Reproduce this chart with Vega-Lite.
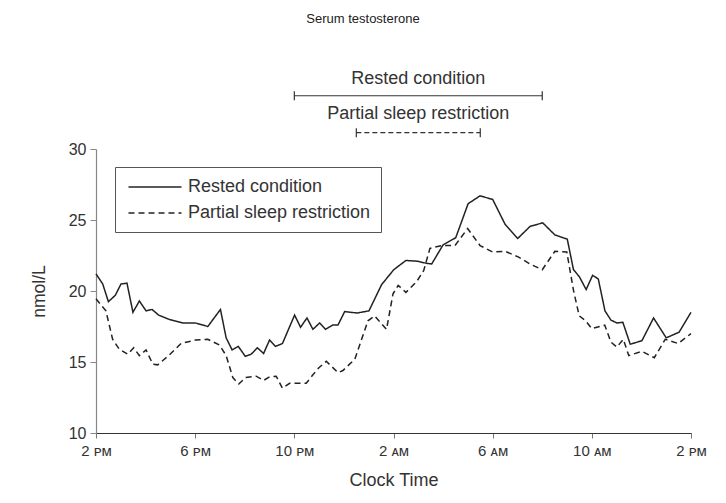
{
  "$schema": "https://vega.github.io/schema/vega-lite/v6.json",
  "width": 595,
  "height": 284,
  "autosize": {"type": "none"},
  "padding": {"left": 96, "top": 149, "right": 35, "bottom": 70},
  "background": "white",
  "config": {
    "view": {"stroke": null},
    "font": "Liberation Sans",
    "axis": {"grid": false, "labelFont": "Liberation Sans", "titleFont": "Liberation Sans", "titleFontWeight": "normal"}
  },
  "datasets": {
    "serum": [
      {"t": 0.00, "v": 21.2, "s": "Rested condition"},
      {"t": 0.27, "v": 20.5, "s": "Rested condition"},
      {"t": 0.50, "v": 19.25, "s": "Rested condition"},
      {"t": 0.78, "v": 19.7, "s": "Rested condition"},
      {"t": 1.01, "v": 20.5, "s": "Rested condition"},
      {"t": 1.25, "v": 20.55, "s": "Rested condition"},
      {"t": 1.49, "v": 18.5, "s": "Rested condition"},
      {"t": 1.75, "v": 19.3, "s": "Rested condition"},
      {"t": 2.02, "v": 18.6, "s": "Rested condition"},
      {"t": 2.26, "v": 18.7, "s": "Rested condition"},
      {"t": 2.53, "v": 18.3, "s": "Rested condition"},
      {"t": 2.95, "v": 18.0, "s": "Rested condition"},
      {"t": 3.50, "v": 17.75, "s": "Rested condition"},
      {"t": 4.01, "v": 17.75, "s": "Rested condition"},
      {"t": 4.51, "v": 17.5, "s": "Rested condition"},
      {"t": 5.02, "v": 18.7, "s": "Rested condition"},
      {"t": 5.25, "v": 16.7, "s": "Rested condition"},
      {"t": 5.49, "v": 15.85, "s": "Rested condition"},
      {"t": 5.74, "v": 16.1, "s": "Rested condition"},
      {"t": 6.02, "v": 15.4, "s": "Rested condition"},
      {"t": 6.26, "v": 15.55, "s": "Rested condition"},
      {"t": 6.51, "v": 16.0, "s": "Rested condition"},
      {"t": 6.76, "v": 15.6, "s": "Rested condition"},
      {"t": 7.00, "v": 16.55, "s": "Rested condition"},
      {"t": 7.24, "v": 16.1, "s": "Rested condition"},
      {"t": 7.52, "v": 16.3, "s": "Rested condition"},
      {"t": 8.01, "v": 18.3, "s": "Rested condition"},
      {"t": 8.25, "v": 17.45, "s": "Rested condition"},
      {"t": 8.51, "v": 18.1, "s": "Rested condition"},
      {"t": 8.75, "v": 17.3, "s": "Rested condition"},
      {"t": 9.02, "v": 17.75, "s": "Rested condition"},
      {"t": 9.26, "v": 17.3, "s": "Rested condition"},
      {"t": 9.54, "v": 17.6, "s": "Rested condition"},
      {"t": 9.76, "v": 17.6, "s": "Rested condition"},
      {"t": 10.03, "v": 18.55, "s": "Rested condition"},
      {"t": 10.53, "v": 18.45, "s": "Rested condition"},
      {"t": 11.01, "v": 18.6, "s": "Rested condition"},
      {"t": 11.52, "v": 20.45, "s": "Rested condition"},
      {"t": 12.01, "v": 21.5, "s": "Rested condition"},
      {"t": 12.50, "v": 22.15, "s": "Rested condition"},
      {"t": 12.95, "v": 22.1, "s": "Rested condition"},
      {"t": 13.33, "v": 21.95, "s": "Rested condition"},
      {"t": 13.54, "v": 21.9, "s": "Rested condition"},
      {"t": 14.00, "v": 23.25, "s": "Rested condition"},
      {"t": 14.51, "v": 23.75, "s": "Rested condition"},
      {"t": 15.01, "v": 26.15, "s": "Rested condition"},
      {"t": 15.49, "v": 26.7, "s": "Rested condition"},
      {"t": 16.00, "v": 26.45, "s": "Rested condition"},
      {"t": 16.50, "v": 24.7, "s": "Rested condition"},
      {"t": 17.01, "v": 23.7, "s": "Rested condition"},
      {"t": 17.51, "v": 24.55, "s": "Rested condition"},
      {"t": 18.02, "v": 24.8, "s": "Rested condition"},
      {"t": 18.51, "v": 23.95, "s": "Rested condition"},
      {"t": 19.01, "v": 23.65, "s": "Rested condition"},
      {"t": 19.26, "v": 21.5, "s": "Rested condition"},
      {"t": 19.50, "v": 21.0, "s": "Rested condition"},
      {"t": 19.77, "v": 20.1, "s": "Rested condition"},
      {"t": 20.03, "v": 21.1, "s": "Rested condition"},
      {"t": 20.26, "v": 20.85, "s": "Rested condition"},
      {"t": 20.53, "v": 18.6, "s": "Rested condition"},
      {"t": 20.77, "v": 17.95, "s": "Rested condition"},
      {"t": 21.01, "v": 17.75, "s": "Rested condition"},
      {"t": 21.25, "v": 17.8, "s": "Rested condition"},
      {"t": 21.55, "v": 16.25, "s": "Rested condition"},
      {"t": 22.02, "v": 16.5, "s": "Rested condition"},
      {"t": 22.49, "v": 18.1, "s": "Rested condition"},
      {"t": 23.00, "v": 16.7, "s": "Rested condition"},
      {"t": 23.52, "v": 17.1, "s": "Rested condition"},
      {"t": 24.00, "v": 18.5, "s": "Rested condition"},
      {"t": 0.00, "v": 19.45, "s": "Partial sleep restriction"},
      {"t": 0.40, "v": 18.6, "s": "Partial sleep restriction"},
      {"t": 0.67, "v": 16.6, "s": "Partial sleep restriction"},
      {"t": 0.94, "v": 15.9, "s": "Partial sleep restriction"},
      {"t": 1.28, "v": 15.55, "s": "Partial sleep restriction"},
      {"t": 1.52, "v": 16.0, "s": "Partial sleep restriction"},
      {"t": 1.75, "v": 15.45, "s": "Partial sleep restriction"},
      {"t": 2.02, "v": 15.85, "s": "Partial sleep restriction"},
      {"t": 2.29, "v": 14.85, "s": "Partial sleep restriction"},
      {"t": 2.49, "v": 14.8, "s": "Partial sleep restriction"},
      {"t": 2.96, "v": 15.5, "s": "Partial sleep restriction"},
      {"t": 3.43, "v": 16.3, "s": "Partial sleep restriction"},
      {"t": 4.01, "v": 16.55, "s": "Partial sleep restriction"},
      {"t": 4.51, "v": 16.6, "s": "Partial sleep restriction"},
      {"t": 4.98, "v": 16.2, "s": "Partial sleep restriction"},
      {"t": 5.25, "v": 15.45, "s": "Partial sleep restriction"},
      {"t": 5.52, "v": 13.9, "s": "Partial sleep restriction"},
      {"t": 5.76, "v": 13.45, "s": "Partial sleep restriction"},
      {"t": 6.03, "v": 13.9, "s": "Partial sleep restriction"},
      {"t": 6.46, "v": 14.0, "s": "Partial sleep restriction"},
      {"t": 6.76, "v": 13.7, "s": "Partial sleep restriction"},
      {"t": 7.00, "v": 13.95, "s": "Partial sleep restriction"},
      {"t": 7.27, "v": 14.0, "s": "Partial sleep restriction"},
      {"t": 7.52, "v": 13.15, "s": "Partial sleep restriction"},
      {"t": 7.81, "v": 13.5, "s": "Partial sleep restriction"},
      {"t": 8.48, "v": 13.5, "s": "Partial sleep restriction"},
      {"t": 8.75, "v": 14.1, "s": "Partial sleep restriction"},
      {"t": 8.99, "v": 14.6, "s": "Partial sleep restriction"},
      {"t": 9.29, "v": 15.05, "s": "Partial sleep restriction"},
      {"t": 9.76, "v": 14.25, "s": "Partial sleep restriction"},
      {"t": 9.96, "v": 14.4, "s": "Partial sleep restriction"},
      {"t": 10.44, "v": 15.2, "s": "Partial sleep restriction"},
      {"t": 10.97, "v": 17.9, "s": "Partial sleep restriction"},
      {"t": 11.24, "v": 18.25, "s": "Partial sleep restriction"},
      {"t": 11.72, "v": 17.3, "s": "Partial sleep restriction"},
      {"t": 11.98, "v": 19.8, "s": "Partial sleep restriction"},
      {"t": 12.19, "v": 20.4, "s": "Partial sleep restriction"},
      {"t": 12.50, "v": 19.9, "s": "Partial sleep restriction"},
      {"t": 12.93, "v": 20.65, "s": "Partial sleep restriction"},
      {"t": 13.22, "v": 21.45, "s": "Partial sleep restriction"},
      {"t": 13.47, "v": 23.0, "s": "Partial sleep restriction"},
      {"t": 13.94, "v": 23.2, "s": "Partial sleep restriction"},
      {"t": 14.48, "v": 23.2, "s": "Partial sleep restriction"},
      {"t": 14.99, "v": 24.4, "s": "Partial sleep restriction"},
      {"t": 15.49, "v": 23.2, "s": "Partial sleep restriction"},
      {"t": 16.00, "v": 22.75, "s": "Partial sleep restriction"},
      {"t": 16.50, "v": 22.8, "s": "Partial sleep restriction"},
      {"t": 17.03, "v": 22.4, "s": "Partial sleep restriction"},
      {"t": 17.51, "v": 21.9, "s": "Partial sleep restriction"},
      {"t": 18.00, "v": 21.5, "s": "Partial sleep restriction"},
      {"t": 18.51, "v": 22.8, "s": "Partial sleep restriction"},
      {"t": 18.99, "v": 22.75, "s": "Partial sleep restriction"},
      {"t": 19.26, "v": 20.05, "s": "Partial sleep restriction"},
      {"t": 19.49, "v": 18.25, "s": "Partial sleep restriction"},
      {"t": 19.75, "v": 17.9, "s": "Partial sleep restriction"},
      {"t": 20.00, "v": 17.35, "s": "Partial sleep restriction"},
      {"t": 20.52, "v": 17.6, "s": "Partial sleep restriction"},
      {"t": 20.77, "v": 16.4, "s": "Partial sleep restriction"},
      {"t": 21.01, "v": 16.05, "s": "Partial sleep restriction"},
      {"t": 21.27, "v": 16.6, "s": "Partial sleep restriction"},
      {"t": 21.49, "v": 15.45, "s": "Partial sleep restriction"},
      {"t": 22.02, "v": 15.75, "s": "Partial sleep restriction"},
      {"t": 22.52, "v": 15.3, "s": "Partial sleep restriction"},
      {"t": 22.96, "v": 16.6, "s": "Partial sleep restriction"},
      {"t": 23.48, "v": 16.3, "s": "Partial sleep restriction"},
      {"t": 24.00, "v": 17.0, "s": "Partial sleep restriction"}
    ],
    "conditions": [
      {"condition": "Rested condition", "start": 8, "end": 18},
      {"condition": "Partial sleep restriction", "start": 10.5, "end": 15.5}
    ],
    "heading": [{"label": "Serum testosterone"}]
  },
  "layer": [
    {
      "data": {"name": "serum"},
      "mark": {"type": "line", "strokeWidth": 1.5, "color": "#222"},
      "encoding": {
        "x": {
          "field": "t", "type": "quantitative",
          "scale": {"domain": [0, 24], "nice": false, "zero": false},
          "axis": {
            "values": [0, 4, 8, 12, 16, 20, 24],
            "labelExpr": "['2 ᴘᴍ','6 ᴘᴍ','10 ᴘᴍ','2 ᴀᴍ','6 ᴀᴍ','10 ᴀᴍ','2 ᴘᴍ'][round(datum.value/4)]",
            "title": "Clock Time", "titleFontSize": 18, "titleColor": "#333", "titlePadding": 13,
            "labelFontSize": 15, "labelColor": "#333", "labelPadding": 5, "labelFlush": false,
            "tickSize": 5, "tickColor": "#777", "domainColor": "#333", "domainWidth": 1.2
          }
        },
        "y": {
          "field": "v", "type": "quantitative",
          "scale": {"domain": [10, 30], "nice": false, "zero": false},
          "axis": {
            "values": [10, 15, 20, 25, 30],
            "title": "nmol/L", "titleFontSize": 17.5, "titleColor": "#333", "titlePadding": 20,
            "labelFontSize": 16, "labelColor": "#333", "labelPadding": 4,
            "tickSize": 6, "tickColor": "#888", "domainColor": "#888", "domainWidth": 1.2
          }
        },
        "strokeDash": {
          "field": "s", "type": "nominal",
          "scale": {"domain": ["Rested condition", "Partial sleep restriction"], "range": [[1, 0], [6, 4]]},
          "legend": {
            "title": null, "orient": "none", "legendX": 19, "legendY": 18, "direction": "vertical",
            "symbolType": "M-3,0H3", "symbolSize": 312, "symbolStrokeWidth": 1.5, "symbolStrokeColor": "#222",
            "symbolOffset": 20, "labelOffset": 23, "labelFontSize": 18, "labelColor": "#333", "labelLimit": 300,
            "strokeColor": "#555", "fillColor": "white", "padding": 10, "rowPadding": 7
          }
        }
      }
    },
    {
      "data": {"name": "conditions"},
      "transform": [{"filter": "datum.condition === 'Rested condition'"}],
      "layer": [
        {"mark": {"type": "rule", "color": "#333", "strokeWidth": 1.2},
         "encoding": {"x": {"field": "start", "type": "quantitative"}, "x2": {"field": "end"}, "y": {"datum": 33.75}}},
        {"mark": {"type": "tick", "orient": "vertical", "size": 9, "thickness": 1.2, "color": "#333", "opacity": 1},
         "encoding": {"x": {"field": "start", "type": "quantitative"}, "y": {"datum": 33.75}}},
        {"mark": {"type": "tick", "orient": "vertical", "size": 9, "thickness": 1.2, "color": "#333", "opacity": 1},
         "encoding": {"x": {"field": "end", "type": "quantitative"}, "y": {"datum": 33.75}}},
        {"mark": {"type": "text", "fontSize": 18, "color": "#333", "baseline": "middle", "align": "center"},
         "encoding": {"text": {"field": "condition"}, "x": {"datum": 13}, "y": {"datum": 34.95}}}
      ]
    },
    {
      "data": {"name": "conditions"},
      "transform": [{"filter": "datum.condition === 'Partial sleep restriction'"}],
      "layer": [
        {"mark": {"type": "rule", "color": "#333", "strokeWidth": 1.2, "strokeDash": [5, 3]},
         "encoding": {"x": {"field": "start", "type": "quantitative"}, "x2": {"field": "end"}, "y": {"datum": 31.15}}},
        {"mark": {"type": "tick", "orient": "vertical", "size": 9, "thickness": 1.2, "color": "#333", "opacity": 1},
         "encoding": {"x": {"field": "start", "type": "quantitative"}, "y": {"datum": 31.15}}},
        {"mark": {"type": "tick", "orient": "vertical", "size": 9, "thickness": 1.2, "color": "#333", "opacity": 1},
         "encoding": {"x": {"field": "end", "type": "quantitative"}, "y": {"datum": 31.15}}},
        {"mark": {"type": "text", "fontSize": 18, "color": "#333", "baseline": "middle", "align": "center"},
         "encoding": {"text": {"field": "condition"}, "x": {"datum": 13}, "y": {"datum": 32.45}}}
      ]
    },
    {
      "data": {"name": "heading"},
      "mark": {"type": "text", "fontSize": 13, "color": "#222", "baseline": "middle", "align": "center"},
      "encoding": {"text": {"field": "label"}, "x": {"datum": 10.77}, "y": {"datum": 39.15}}
    }
  ]
}
